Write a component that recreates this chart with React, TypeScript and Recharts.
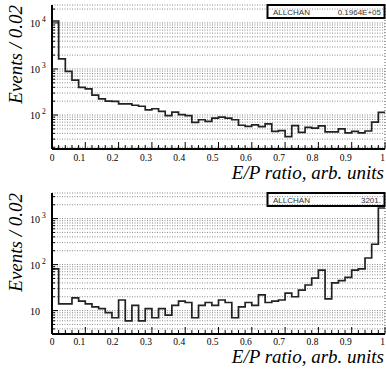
import React from 'react';
import { LineChart, Line, XAxis, YAxis, CartesianGrid } from 'recharts';

// ---- data ----
const binWidth = 0.02;
const nBins = 50;

const topCounts = [
  11000, 1650, 890, 570, 400, 370, 270, 225, 200, 198,
  175, 175, 163, 155, 130, 137, 120, 97, 116, 102,
  97, 69, 79, 73, 86, 90, 86, 79, 60, 57,
  61, 56, 64, 44, 46, 34, 59, 42, 54, 52,
  58, 43, 43, 50, 41, 44, 41, 45, 70, 114,
];

const bottomCounts = [
  81, 14, 14, 19, 16, 14, 12, 11, 9, 7,
  17, 6, 13, 6, 11, 7, 11, 8, 13, 16,
  15, 7, 13, 15, 13, 17, 15, 7, 12, 15,
  13, 22, 15, 16, 17, 24, 20, 28, 36, 51,
  76, 18, 40, 45, 53, 76, 81, 139, 277, 1700,
];

const xTickLabels = ['0', '0.1', '0.2', '0.3', '0.4', '0.5', '0.6', '0.7', '0.8', '0.9', '1'];
const xGridTicks = [0.1, 0.2, 0.3, 0.4, 0.5, 0.6, 0.7, 0.8, 0.9];
const mantissas = [1, 2, 3, 4, 5, 6, 7, 8, 9];

const topDecades = [10, 100, 1000, 10000];
const topDomain = [18.3, 24500];
const bottomDecades = [1, 10, 100, 1000];
const bottomDomain = [3.1, 3600];

const topStatLabel = 'ALLCHAN';
const topStatValue = '0.1964E+05';
const bottomStatLabel = 'ALLCHAN';
const bottomStatValue = '3201.';

const yTitle = 'Events / 0.02';
const xTitle = 'E/P ratio, arb. units';

// ---- helpers ----
const edgeTicks = Array.from({ length: nBins + 1 }, (_, i) => +(i * binWidth).toFixed(2));

function makeSteps(counts: number[]) {
  const pts = counts.map((c, i) => ({ x: +(i * binWidth).toFixed(2), y: c }));
  pts.push({ x: 1, y: counts[counts.length - 1] });
  return pts;
}

function makeLogTicks(decades: number[], domain: number[]) {
  const out: number[] = [];
  decades.forEach((d) => mantissas.forEach((m) => {
    const v = d * m;
    if (v >= domain[0] && v <= domain[1]) out.push(v);
  }));
  return out;
}

const SERIF = "'Liberation Serif', 'Times New Roman', serif";
const SANS = "'Liberation Sans', Arial, sans-serif";

function makeXTick(labelOffset: number) {
  return function XTick(props: any) {
    const { x, y, payload } = props;
    const v = payload.value as number;
    const k = Math.round(v * 10);
    const major = Math.abs(v * 10 - k) < 1e-6;
    return (
      <g>
        <line x1={x} x2={x} y1={y} y2={y - (major ? 7 : 4)} stroke="#000" strokeWidth={1} />
        {major && (
          <text
            x={x}
            y={y + labelOffset}
            textAnchor={k === 0 ? 'middle' : 'end'}
            fontFamily={SERIF}
            fontSize={9.5}
            fill="#000"
          >
            {xTickLabels[k]}
          </text>
        )}
      </g>
    );
  };
}

function YTick(props: any) {
  const { x, y, payload } = props;
  const v = payload.value as number;
  const lg = Math.log10(v);
  const e = Math.round(lg);
  const decade = Math.abs(lg - e) < 1e-6;
  return (
    <g>
      <line x1={x} x2={x + (decade ? 6 : 3)} y1={y} y2={y} stroke="#000" strokeWidth={1} />
      {decade && (
        <text x={x - 22} y={y + 4} fontFamily={SERIF} fontSize={10} fill="#000">
          10
          {e > 1 && (
            <tspan dx={2} dy={-5} fontSize={7.5}>
              {e}
            </tspan>
          )}
        </text>
      )}
    </g>
  );
}

const W = 386;

interface PanelProps {
  top: number;
  height: number;
  marginTop: number;
  xAxisHeight: number;
  labelOffset: number;
  titleOffset: number;
  counts: number[];
  domain: number[];
  decades: number[];
  statLabel: string;
  statValue: string;
}

function Panel({ top, height, marginTop, xAxisHeight, labelOffset, titleOffset, counts, domain, decades, statLabel, statValue }: PanelProps) {
  const data = makeSteps(counts);
  const yTicks = makeLogTicks(decades, domain);
  const plotTop = marginTop;
  const plotBottom = height - xAxisHeight;
  const XTick = makeXTick(labelOffset);
  return (
    <div style={{ position: 'absolute', left: 0, top, width: W, height }}>
      <LineChart width={W} height={height} data={data} margin={{ top: marginTop, right: 1, bottom: 0, left: 0 }}>
        <CartesianGrid xAxisId="b" yAxisId="l" vertical={false} stroke="#8a8a8a" strokeDasharray="1 1.5" strokeWidth={1} />
        <CartesianGrid xAxisId="t" yAxisId="l" horizontal={false} stroke="#555" strokeDasharray="1 2" strokeWidth={1} />
        <XAxis
          xAxisId="b"
          dataKey="x"
          type="number"
          domain={[0, 1]}
          ticks={edgeTicks}
          interval={0}
          allowDataOverflow
          tick={(p: any) => <XTick {...p} />}
          tickLine={false}
          tickSize={0}
          tickMargin={0}
          axisLine={{ stroke: '#000', strokeWidth: 2 }}
          height={xAxisHeight}
        />
        <XAxis
          xAxisId="t"
          orientation="top"
          dataKey="x"
          type="number"
          domain={[0, 1]}
          ticks={xGridTicks}
          interval={0}
          allowDataOverflow
          tick={false}
          tickLine={false}
          axisLine={{ stroke: '#777', strokeWidth: 2 }}
          height={0}
        />
        <YAxis
          yAxisId="l"
          type="number"
          scale="log"
          domain={domain}
          ticks={yTicks}
          interval={0}
          allowDataOverflow
          tick={(p: any) => <YTick {...p} />}
          tickLine={false}
          tickSize={0}
          tickMargin={0}
          axisLine={{ stroke: '#000', strokeWidth: 2 }}
          width={52}
        />
        <YAxis
          yAxisId="r"
          orientation="right"
          type="number"
          scale="log"
          domain={domain}
          allowDataOverflow
          tick={false}
          tickLine={false}
          axisLine={{ stroke: '#777', strokeWidth: 2 }}
          width={0}
        />
        <Line
          xAxisId="b"
          yAxisId="l"
          type="stepAfter"
          dataKey="y"
          stroke="#222"
          strokeWidth={1.7}
          dot={false}
          isAnimationActive={false}
        />
      </LineChart>
      <svg
        width={W}
        height={height}
        style={{ position: 'absolute', left: 0, top: 0, pointerEvents: 'none' }}
      >
        <rect x={267.5} y={plotTop} width={117} height={13} fill="none" stroke="#000" strokeWidth={2} />
        <text x={273} y={plotTop + 10} fontFamily={SANS} fontSize={8} fill="#333">
          {statLabel}
        </text>
        <text x={381} y={plotTop + 10} textAnchor="end" fontFamily={SANS} fontSize={8} fill="#333">
          {statValue}
        </text>
        <text
          transform={`translate(22, ${plotTop}) rotate(-90)`}
          textAnchor="end"
          fontFamily={SERIF}
          fontStyle="italic"
          fontSize={19}
          fill="#000"
        >
          {yTitle}
        </text>
        <text
          x={384}
          y={plotBottom + titleOffset}
          textAnchor="end"
          fontFamily={SERIF}
          fontStyle="italic"
          fontSize={19}
          fill="#000"
        >
          {xTitle}
        </text>
      </svg>
    </div>
  );
}

export default function App() {
  return (
    <div style={{ position: 'absolute', left: 0, top: 0, width: W, height: 369, background: '#fff', overflow: 'hidden' }}>
      <Panel
        top={0}
        height={185}
        marginTop={5}
        xAxisHeight={36}
        labelOffset={12}
        titleOffset={30}
        counts={topCounts}
        domain={topDomain}
        decades={topDecades}
        statLabel={topStatLabel}
        statValue={topStatValue}
      />
      <Panel
        top={185}
        height={184}
        marginTop={8}
        xAxisHeight={35}
        labelOffset={11}
        titleOffset={29}
        counts={bottomCounts}
        domain={bottomDomain}
        decades={bottomDecades}
        statLabel={bottomStatLabel}
        statValue={bottomStatValue}
      />
    </div>
  );
}
